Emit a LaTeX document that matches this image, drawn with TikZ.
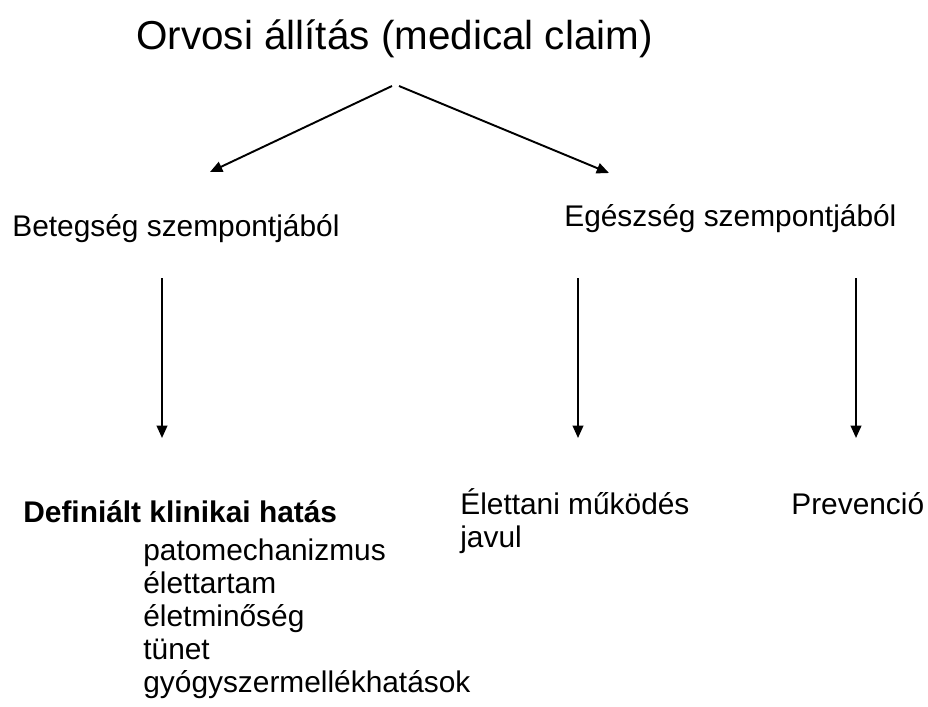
\documentclass[tikz,border=0pt]{standalone}
\usepackage{fontspec}
\setmainfont{Liberation Sans}
\usepackage{tikz}
\usetikzlibrary{arrows.meta, positioning}

\begin{document}
\begin{tikzpicture}[
  x=0.02cm, y=-0.02cm,
  txt/.style={anchor=base west, inner sep=0pt, font=\fontsize{17}{20}\selectfont},
  head/.style={anchor=base west, inner sep=0pt, font=\fontsize{23}{28}\selectfont},
  arrow/.style={-{Triangle[length=7pt, width=6pt]}, line width=1.1pt},
]
  \useasboundingbox (0,0) rectangle (928,706);

  \node[head] (claim) at (136,50) {Orvosi állítás (medical claim)};
  \node[txt] (illness) at (12,236) {Betegség szempontjából};
  \node[txt] (health)  at (564,226) {Egészség szempontjából};

  \node[txt, font=\fontsize{17}{20}\selectfont\bfseries] (clinic) at (23,522) {Definiált klinikai hatás};
  \node[txt] (pato)  at (143,560) {patomechanizmus};
  \node[txt] (life)  at (143,593) {élettartam};
  \node[txt] (qual)  at (143,626) {életminőség};
  \node[txt] (sympt) at (143,659) {tünet};
  \node[txt] (side)  at (143,692) {gyógyszermellékhatások};

  \node[txt] (physio) at (460,514) {Élettani működés};
  \node[txt] (javul)  at (460,547) {javul};
  \node[txt] (prev)   at (791,514) {Prevenció};

  % arrow ends
  \coordinate (splitL) at (392,86);
  \coordinate (splitR) at (399,86);
  \coordinate (tipL)   at (210,172);
  \coordinate (tipR)   at (609,173);
  \coordinate (topA) at (162,278);
  \coordinate (botA) at (162,438);
  \coordinate (topB) at (578,278);
  \coordinate (botB) at (578,438);
  \coordinate (topC) at (856,278);
  \coordinate (botC) at (856,438);

  \draw[arrow] (splitL) -- (tipL);
  \draw[arrow] (splitR) -- (tipR);
  \draw[arrow] (topA) -- (botA);
  \draw[arrow] (topB) -- (botB);
  \draw[arrow] (topC) -- (botC);
\end{tikzpicture}
\end{document}
